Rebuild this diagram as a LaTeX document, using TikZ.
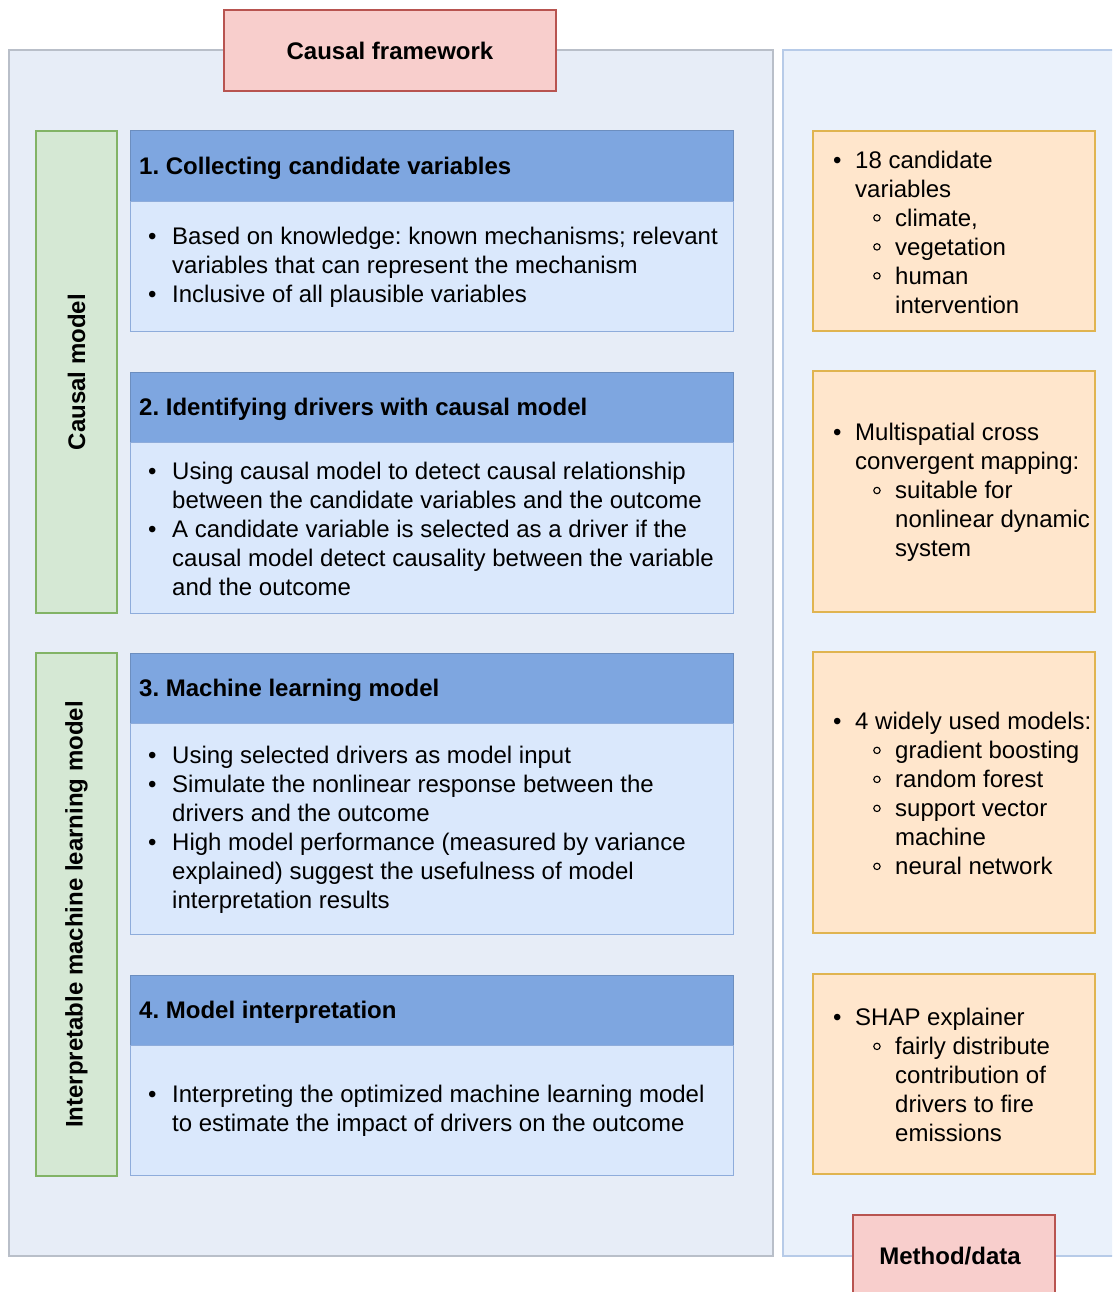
\documentclass[tikz,border=0pt]{standalone}
\usepackage{fontspec}
\setmainfont{Liberation Sans}
\frenchspacing
\definecolor{leftfill}{HTML}{E7EDF7}
\definecolor{leftline}{HTML}{B9BFC9}
\definecolor{rightfill}{HTML}{EAF1FB}
\definecolor{rightline}{HTML}{B7CBE8}
\definecolor{redfill}{HTML}{F8CECC}
\definecolor{redline}{HTML}{B85450}
\definecolor{greenfill}{HTML}{D5E8D4}
\definecolor{greenline}{HTML}{82B366}
\definecolor{headfill}{HTML}{7EA6E0}
\definecolor{headline}{HTML}{6C8EBF}
\definecolor{bodyfill}{HTML}{DAE8FC}
\definecolor{bodyline}{HTML}{8EACDB}
\definecolor{orangefill}{HTML}{FFE6CC}
\definecolor{orangeline}{HTML}{E0B450}
% bullet marks and hanging indents
\newcommand{\mkA}{\makebox[24pt][l]{•}}
\newcommand{\indA}{\hspace*{24pt}}
\newcommand{\mkO}{\makebox[22pt][l]{•}}
\newcommand{\indO}{\hspace*{22pt}}
\newcommand{\opencirc}{\tikz[baseline=0pt]{\draw[line width=1.1pt] (3.8pt,8.2pt) circle[radius=3.2pt];}}
\newcommand{\mkS}{\hspace*{40pt}\makebox[22pt][l]{\opencirc}}
\newcommand{\indS}{\hspace*{62pt}}
\begin{document}
\begin{tikzpicture}[x=1pt,y=-1pt,
  shape box/.style={rectangle, anchor=north west, inner sep=0pt, outer sep=0pt},
  leftpanel/.style={shape box, fill=leftfill, draw=leftline, line width=1.2pt},
  rightpanel/.style={shape box, fill=rightfill, draw=rightline, line width=1.2pt},
  redbox/.style={shape box, fill=redfill, draw=redline, line width=2.6pt},
  greenbox/.style={shape box, fill=greenfill, draw=greenline, line width=2.6pt},
  headbox/.style={shape box, fill=headfill, draw=headline, line width=1pt},
  bodybox/.style={shape box, fill=bodyfill, draw=bodyline, line width=1pt},
  orangebox/.style={shape box, fill=orangefill, draw=orangeline, line width=1.4pt},
  txt/.style={anchor=west, align=left, inner sep=0pt, yshift=-1pt,
    font=\fontsize{24}{29}\selectfont},
  headtxt/.style={anchor=west, inner sep=0pt, yshift=-2pt,
    font=\bfseries\fontsize{24}{29}\selectfont},
  titletxt/.style={inner sep=0pt, font=\bfseries\fontsize{24}{29}\selectfont},
  sidetxt/.style={inner sep=0pt, rotate=90,
    font=\bfseries\fontsize{24}{29}\selectfont}]

\clip (0,0) rectangle (1112,1292);
\fill[white] (0,0) rectangle (1112,1292);

% two panels
\node[leftpanel, minimum width=764pt, minimum height=1206pt] (left) at (9,50) {};
\node[rightpanel, minimum width=340pt, minimum height=1206pt] (right) at (783,50) {};

% panel title
\node[redbox, minimum width=332pt, minimum height=81pt] (frame) at (224,10) {};
\node[titletxt] (frametxt) at (frame.center) {Causal framework};

% stage labels
\node[greenbox, minimum width=81pt, minimum height=482pt] (gcausal) at (36,131) {};
\node[sidetxt] (gcausaltxt) at (gcausal.center) {Causal model};
\node[greenbox, minimum width=81pt, minimum height=523pt] (gml) at (36,653) {};
\node[sidetxt] (gmltxt) at (gml.center) {Interpretable machine learning model};

% step 1
\node[headbox, minimum width=603pt, minimum height=70pt] (h1) at (130,131) {};
\node[bodybox, minimum width=603pt, minimum height=130pt] (b1) at (130,201) {};
\node[headtxt] (h1txt) at ([xshift=9pt]h1.west) {1. Collecting candidate variables};
\node[txt] (b1txt) at ([xshift=18pt]b1.west) {%
\mkA Based on knowledge: known mechanisms; relevant\\
\indA variables that can represent the mechanism\\
\mkA Inclusive of all plausible variables};

% step 2
\node[headbox, minimum width=603pt, minimum height=70pt] (h2) at (130,372) {};
\node[bodybox, minimum width=603pt, minimum height=171pt] (b2) at (130,442) {};
\node[headtxt] (h2txt) at ([xshift=9pt]h2.west) {2. Identifying drivers with causal model};
\node[txt] (b2txt) at ([xshift=18pt]b2.west) {%
\mkA Using causal model to detect causal relationship\\
\indA between the candidate variables and the outcome\\
\mkA A candidate variable is selected as a driver if the\\
\indA causal model detect causality between the variable\\
\indA and the outcome};

% step 3
\node[headbox, minimum width=603pt, minimum height=70pt] (h3) at (130,653) {};
\node[bodybox, minimum width=603pt, minimum height=211pt] (b3) at (130,723) {};
\node[headtxt] (h3txt) at ([xshift=9pt]h3.west) {3. Machine learning model};
\node[txt] (b3txt) at ([xshift=18pt]b3.west) {%
\mkA Using selected drivers as model input\\
\mkA Simulate the nonlinear response between the\\
\indA drivers and the outcome\\
\mkA High model performance (measured by variance\\
\indA explained) suggest the usefulness of model\\
\indA interpretation results};

% step 4
\node[headbox, minimum width=603pt, minimum height=70pt] (h4) at (130,975) {};
\node[bodybox, minimum width=603pt, minimum height=130pt] (b4) at (130,1045) {};
\node[headtxt] (h4txt) at ([xshift=9pt]h4.west) {4. Model interpretation};
\node[txt] (b4txt) at ([xshift=18pt]b4.west) {%
\mkA Interpreting the optimized machine learning model\\
\indA to estimate the impact of drivers on the outcome};

% methods and data
\node[orangebox, minimum width=282pt, minimum height=200pt] (o1) at (813,131) {};
\node[txt] (o1txt) at ([xshift=20pt]o1.west) {%
\mkO 18 candidate\\
\indO variables\\
\mkS climate,\\
\mkS vegetation\\
\mkS human\\
\indS intervention};

\node[orangebox, minimum width=282pt, minimum height=241pt] (o2) at (813,371) {};
\node[txt] (o2txt) at ([xshift=20pt]o2.west) {%
\mkO Multispatial cross\\
\indO convergent mapping:\\
\mkS suitable for\\
\indS nonlinear dynamic\\
\indS system};

\node[orangebox, minimum width=282pt, minimum height=281pt] (o3) at (813,652) {};
\node[txt] (o3txt) at ([xshift=20pt]o3.west) {%
\mkO 4 widely used models:\\
\mkS gradient boosting\\
\mkS random forest\\
\mkS support vector\\
\indS machine\\
\mkS neural network};

\node[orangebox, minimum width=282pt, minimum height=200pt] (o4) at (813,974) {};
\node[txt] (o4txt) at ([xshift=20pt]o4.west) {%
\mkO SHAP explainer\\
\mkS fairly distribute\\
\indS contribution of\\
\indS drivers to fire\\
\indS emissions};

% panel title
\node[redbox, minimum width=202pt, minimum height=82pt] (method) at (853,1215) {};
\node[titletxt] (methodtxt) at ([xshift=-4pt,yshift=0pt]method.center) {Method/data};
\end{tikzpicture}
\end{document}
